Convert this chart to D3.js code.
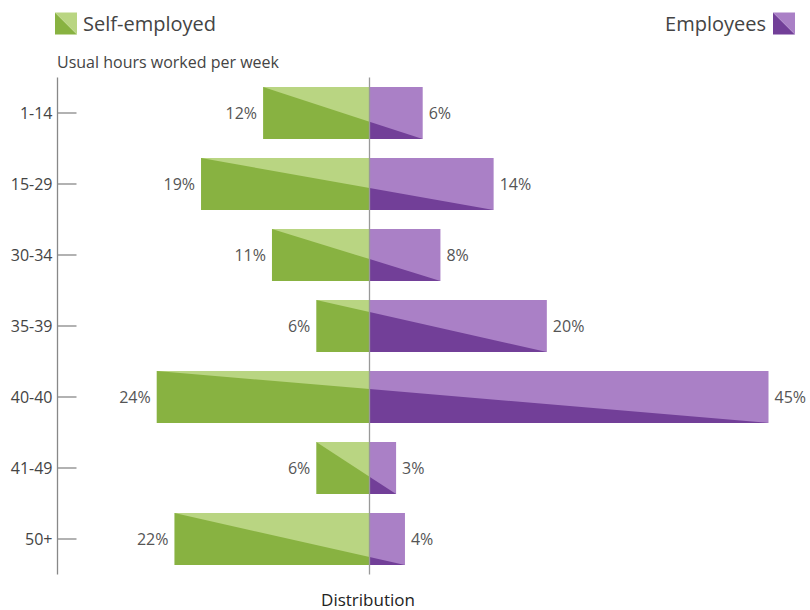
<!DOCTYPE html>
<html><head><meta charset="utf-8">
<script src="https://cdn.jsdelivr.net/npm/d3@7"></script>
<style>body{margin:0;background:#fff;} text{font-family:"Open Sans",sans-serif;}</style>
</head><body>
<svg id="chart" width="810" height="610"></svg>
<script>
const categories = ["1-14","15-29","30-34","35-39","40-40","41-49","50+"];
const selfEmployed = [12,19,11,6,24,6,22];
const employees = [6,14,8,20,45,3,4];
const seriesNames = ["Self-employed","Employees"];

const svg = d3.select("#chart");
const x0 = 369.5;
const w = d3.scaleLinear().domain([0,45]).range([0,399]);
const y = d3.scaleBand().domain(categories).range([77.5,574.5]).paddingInner(0.27).paddingOuter(0.135);

const cLightG="#b9d582", cDarkG="#88b241", cLightP="#aa80c6", cDarkP="#723f98";
const data = categories.map((c,i)=>({c, L:selfEmployed[i], R:employees[i]}));

const g = svg.append("g");
data.forEach(d=>{
  const t=y(d.c), h=y.bandwidth(), b=t+h;
  const xl=x0-w(d.L), xr=x0+w(d.R);
  const yc=t+h*d.L/(d.L+d.R);
  const line=d3.line();
  g.append("path").attr("d",line([[xl,t],[x0,t],[x0,b],[xl,b]])+"Z").attr("fill",cDarkG);
  g.append("path").attr("d",line([[xl,t],[x0,t],[x0,yc]])+"Z").attr("fill",cLightG);
  g.append("path").attr("d",line([[x0,t],[xr,t],[xr,b],[x0,b]])+"Z").attr("fill",cLightP);
  g.append("path").attr("d",line([[x0,yc],[xr,b],[x0,b]])+"Z").attr("fill",cDarkP);
  g.append("text").attr("x",xl-6).attr("y",t+h/2).attr("dy","0.35em").attr("text-anchor","end")
    .attr("font-size",16).attr("fill","#555").text(d.L+"%");
  g.append("text").attr("x",xr+6).attr("y",t+h/2).attr("dy","0.35em").attr("text-anchor","start")
    .attr("font-size",16).attr("fill","#555").text(d.R+"%");
});

// center line
svg.append("line").attr("x1",x0).attr("x2",x0).attr("y1",77.5).attr("y2",574.5)
  .attr("stroke","#999").attr("stroke-width",1.3);

// left axis
const axis = svg.append("g").attr("transform","translate(57.5,0)")
  .call(d3.axisRight(y).tickSize(19).tickPadding(0).tickFormat(""));
axis.select(".domain").attr("stroke","#888").attr("stroke-width",1.3).attr("d","M0,77.5V574.5");
axis.selectAll(".tick line").attr("stroke","#888").attr("stroke-width",1.3);
axis.selectAll(".tick").append("text").attr("x",-5).attr("dy","0.35em").attr("text-anchor","end")
  .attr("fill","#444").attr("font-size",16).text(d=>d);

svg.append("text").attr("x",57).attr("y",68).attr("font-size",16).attr("fill","#444")
  .text("Usual hours worked per week");
svg.append("text").attr("x",368).attr("y",606).attr("text-anchor","middle").attr("font-size",17)
  .attr("fill","#222").text("Distribution");

// legend
function icon(x,yy,light,dark){
  const s=22, line=d3.line();
  svg.append("path").attr("d",line([[x,yy],[x+s,yy+s],[x,yy+s]])+"Z").attr("fill",dark);
  svg.append("path").attr("d",line([[x,yy],[x+s,yy],[x+s,yy+s]])+"Z").attr("fill",light);
}
icon(55,12.5,cLightG,cDarkG);
svg.append("text").attr("x",83).attr("y",24).attr("dy","0.35em").attr("font-size",20).attr("fill","#444").text(seriesNames[0]);
icon(773,12.5,cLightP,cDarkP);
svg.append("text").attr("x",766).attr("y",24).attr("dy","0.35em").attr("text-anchor","end").attr("font-size",20).attr("fill","#444").text(seriesNames[1]);
</script>
</body></html>
